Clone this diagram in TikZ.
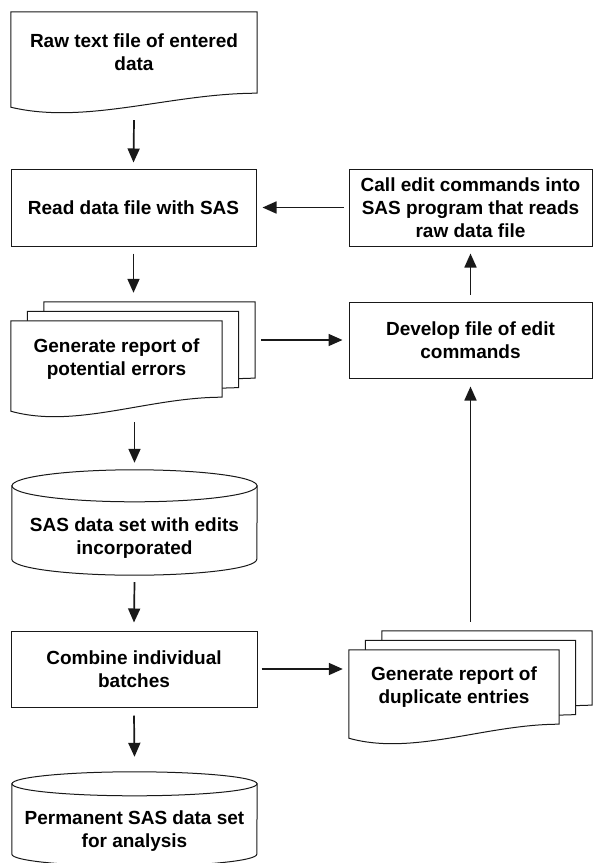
\documentclass[tikz,border=0pt]{standalone}
\usepackage{fontspec}
\setmainfont{Liberation Sans}
\usetikzlibrary{calc,arrows.meta,backgrounds}
\tikzset{>={Triangle[length=14pt,width=12pt]}}
\colorlet{myline}{black!90}

\tikzset{
  flowtext/.style={inner sep=0pt, align=center, font=\bfseries\fontsize{19pt}{23pt}\selectfont},
  box/.style={flowtext, draw=myline, line width=1pt},
  outline/.style={draw=myline, line width=1pt, fill=white},
  link/.style={->, draw=myline, line width=1.7pt}
}

% document outline: node, xshift, yshift
\newcommand\docoutline[3]{%
  \draw[outline] ([xshift=#2,yshift=#3]#1.north west) -- ([xshift=#2,yshift=#3]#1.north east)
    -- ([xshift=#2,yshift=#3]#1.south east)
    .. controls ($([xshift=#2,yshift=#3]#1.south east)!0.35!([xshift=#2,yshift=#3]#1.south west)$)
    and ($([xshift=#2,yshift=#3]#1.south west)!0.305!([xshift=#2,yshift=#3]#1.south east)+(0,32)$)
    .. ([xshift=#2,yshift=#3-14pt]#1.south west) -- cycle;}

% cylinder outline: node, y radius
\newcommand\cyloutline[2]{%
  \draw[outline] ([yshift=#2]#1.north west) -- ([yshift=#2]#1.south west)
    arc[start angle=180, end angle=360, x radius=122.5pt, y radius=#2]
    -- ([yshift=#2]#1.north east) -- cycle;
  \draw[outline] ([yshift=#2]#1.north) ellipse [x radius=122.5pt, y radius=#2];}

\begin{document}
\begin{tikzpicture}[x=1pt,y=-1pt]
  \useasboundingbox (0,0) rectangle (593,863);

  % left column
  \node[flowtext, minimum width=246pt, minimum height=81pt] (raw) at (134,52.5) {Raw text file of entered\\data};
  \node[box, minimum width=245pt, minimum height=77pt] (read) at (133.5,207.5) {Read data file with SAS};
  \node[flowtext, minimum width=211pt, minimum height=76pt] (repA) at (116.5,359) {Generate report of\\potential errors};
  \node[flowtext, minimum width=245pt, minimum height=73pt] (sasset) at (134.5,538.5) {SAS data set with edits\\incorporated};
  \node[box, minimum width=246pt, minimum height=76pt] (combine) at (134,669) {Combine individual\\batches};
  \node[flowtext, minimum width=245pt, minimum height=70pt] (permset) at (134.5,831) {Permanent SAS data set\\for analysis};

  % right column
  \node[box, minimum width=243pt, minimum height=77pt] (call) at (470.5,207.5) {Call edit commands into\\SAS program that reads\\raw data file};
  \node[box, minimum width=243pt, minimum height=76pt] (develop) at (470.5,340) {Develop file of edit\\commands};
  \node[flowtext, minimum width=210pt, minimum height=74pt] (repB) at (454,687) {Generate report of\\duplicate entries};

  \begin{scope}[on background layer]
    \docoutline{raw}{0pt}{0pt}
    \foreach \n in {repA,repB}{
      \foreach \k in {2,1}{
        \pgfmathsetmacro\dx{16.5*\k} % offset of the copies behind
        \pgfmathsetmacro\dy{9.5*\k}
        \docoutline{\n}{\dx pt}{\dy pt}
      }
      \docoutline{\n}{0pt}{0pt}
    }
    \cyloutline{sasset}{16pt}
    \cyloutline{permset}{12pt}
  \end{scope}

  \coordinate (repAtop) at ([yshift=28pt]repA.north);
  \coordinate (repAfoot) at ([yshift=-25pt]repA.south);
  \coordinate (repAedge) at ([xshift=39pt]repA.east);
  \coordinate (repBtop) at ([yshift=28pt]repB.north);

  \draw[link] ([yshift=-27pt]raw.south) -- ([yshift=6pt]read.north);
  \draw[link] ([yshift=-7pt]read.south) -- (read.south |- repAtop);
  \draw[link] (sasset.north |- repAfoot) -- ([yshift=39pt]sasset.north);
  \draw[link] ([yshift=-7pt]sasset.south) -- ([yshift=8pt]combine.north);
  \draw[link] ([yshift=-8pt]combine.south) -- ([yshift=39pt]permset.north);
  \draw[link] ([xshift=-5pt]call.west) -- ([xshift=6pt]read.east);
  \draw[link, shorten >=6pt] (repAedge |- develop.west) -- (develop.west);
  \draw[link, shorten >=6pt] ([xshift=4pt]combine.east) -- (combine.east -| repB.west);
  \draw[link, shorten >=8pt] (develop.south |- repBtop) -- (develop.south);
  \draw[link] ([yshift=7pt]develop.north) -- ([yshift=-7pt]call.south);
\end{tikzpicture}
\end{document}
